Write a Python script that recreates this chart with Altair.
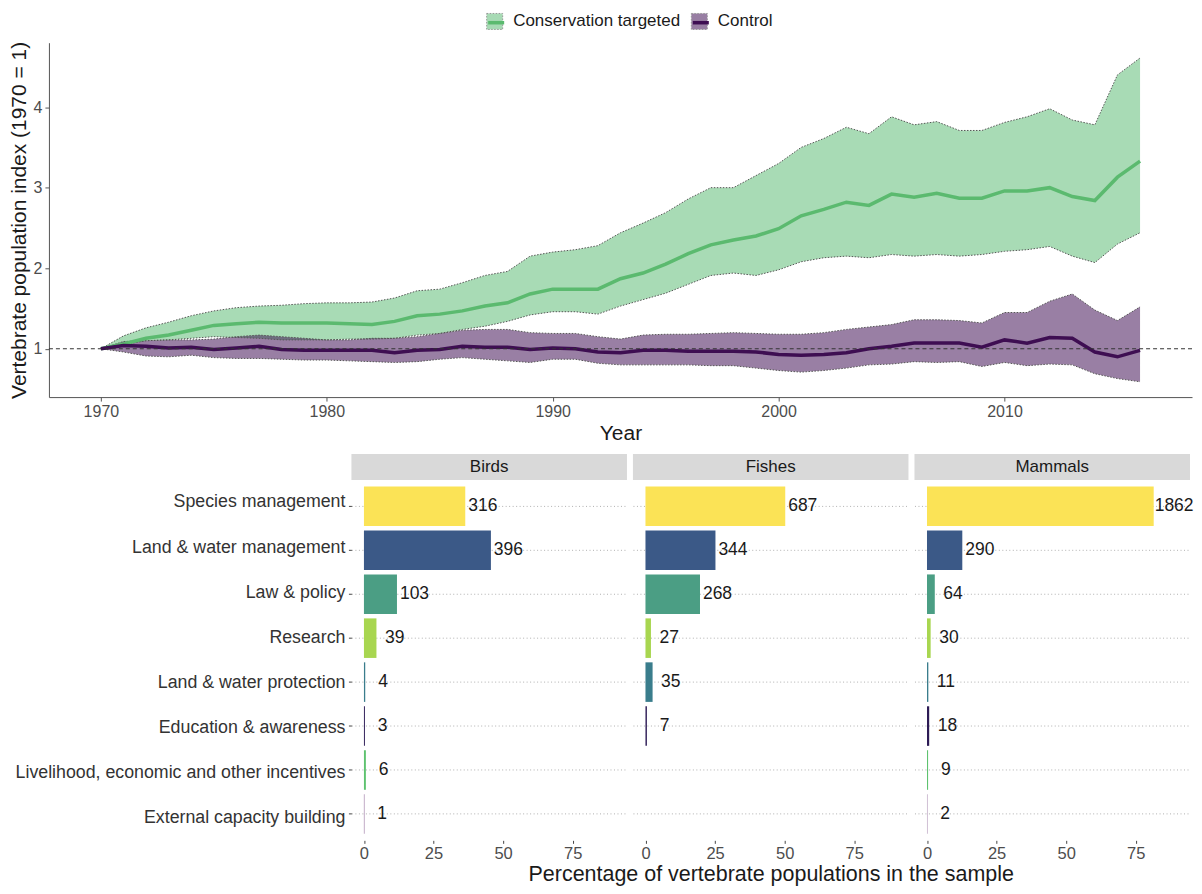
import altair as alt
import pandas as pd

FONT = "Liberation Sans"

# ---------------- top chart data (index, 1970 = 1) ----------------
years = list(range(1970, 2017))

cons_mean = [1.00, 1.06, 1.13, 1.17, 1.23, 1.29, 1.31, 1.33, 1.32, 1.32,
             1.32, 1.31, 1.30, 1.34, 1.41, 1.43, 1.47, 1.53, 1.57, 1.68,
             1.74, 1.74, 1.74, 1.87, 1.94, 2.05, 2.18, 2.29, 2.35, 2.40,
             2.49, 2.65, 2.73, 2.82, 2.78, 2.92, 2.88, 2.93, 2.87, 2.87,
             2.96, 2.96, 3.00, 2.89, 2.84, 3.13, 3.33]
cons_hi = [1.00, 1.16, 1.26, 1.33, 1.41, 1.47, 1.51, 1.53, 1.54, 1.56,
           1.57, 1.57, 1.58, 1.63, 1.72, 1.74, 1.82, 1.91, 1.96, 2.15,
           2.20, 2.23, 2.28, 2.44, 2.56, 2.69, 2.86, 3.00, 3.00, 3.15,
           3.30, 3.50, 3.61, 3.75, 3.67, 3.88, 3.78, 3.82, 3.71, 3.71,
           3.81, 3.88, 3.98, 3.84, 3.78, 4.40, 4.61]
cons_lo = [1.00, 1.05, 1.10, 1.11, 1.13, 1.15, 1.14, 1.13, 1.11, 1.11,
           1.11, 1.12, 1.12, 1.13, 1.17, 1.19, 1.24, 1.28, 1.34, 1.42,
           1.46, 1.46, 1.43, 1.53, 1.61, 1.69, 1.80, 1.91, 1.94, 1.91,
           1.98, 2.08, 2.13, 2.15, 2.13, 2.17, 2.15, 2.17, 2.15, 2.17,
           2.21, 2.23, 2.27, 2.15, 2.07, 2.30, 2.44]
ctrl_mean = [1.00, 1.04, 1.03, 1.01, 1.02, 0.99, 1.01, 1.03, 0.99, 0.98,
             0.98, 0.98, 0.98, 0.95, 0.98, 0.99, 1.03, 1.02, 1.02, 0.99,
             1.01, 1.00, 0.96, 0.95, 0.98, 0.98, 0.97, 0.97, 0.97, 0.96,
             0.93, 0.92, 0.93, 0.95, 1.00, 1.03, 1.07, 1.07, 1.07, 1.02,
             1.11, 1.07, 1.14, 1.13, 0.96, 0.90, 0.98]
ctrl_hi = [1.00, 1.09, 1.10, 1.11, 1.11, 1.12, 1.15, 1.17, 1.15, 1.13,
           1.11, 1.11, 1.13, 1.13, 1.15, 1.19, 1.23, 1.24, 1.24, 1.20,
           1.19, 1.19, 1.15, 1.12, 1.17, 1.18, 1.18, 1.19, 1.20, 1.19,
           1.18, 1.18, 1.20, 1.24, 1.27, 1.30, 1.36, 1.36, 1.35, 1.32,
           1.45, 1.45, 1.59, 1.68, 1.48, 1.35, 1.52]
ctrl_lo = [1.00, 0.96, 0.91, 0.90, 0.92, 0.89, 0.88, 0.88, 0.87, 0.86,
           0.86, 0.85, 0.84, 0.83, 0.84, 0.87, 0.89, 0.87, 0.85, 0.83,
           0.87, 0.87, 0.82, 0.80, 0.80, 0.80, 0.80, 0.79, 0.79, 0.76,
           0.73, 0.71, 0.73, 0.76, 0.80, 0.81, 0.84, 0.83, 0.84, 0.78,
           0.83, 0.79, 0.81, 0.80, 0.69, 0.63, 0.59]

series_names = ["Conservation targeted", "Control"]
band_colors = ["#51B76C", "#33004A"]
line_colors = ["#5BBA6F", "#3E0E52"]

# ---------------- bottom chart data (counts) ----------------
categories = ["Species management", "Land & water management", "Law & policy",
              "Research", "Land & water protection", "Education & awareness",
              "Livelihood, economic and other incentives", "External capacity building"]
cat_colors = ["#FBE356", "#3B5987", "#4B9E84", "#A8D650", "#3A7D8C",
              "#2D1B55", "#5EC26F", "#440154"]
panel_names = ["Birds", "Fishes", "Mammals"]
birds_counts = [316, 396, 103, 39, 4, 3, 6, 1]
fishes_counts = [687, 344, 268, 27, 35, 7]
mammals_counts = [1862, 290, 64, 30, 11, 18, 9, 2]

# ---------------- top chart ----------------
n = len(years)
top_df = pd.DataFrame({
    "year": years + years,
    "series": [series_names[0]] * n + [series_names[1]] * n,
    "mean": cons_mean + ctrl_mean,
    "lo": cons_lo + ctrl_lo,
    "hi": cons_hi + ctrl_hi,
})

W1, H1 = 1145, 355
YTITLE = "Vertebrate population index (1970 = 1)"

x_scale = alt.Scale(domain=[1967.7, 2018.3], nice=False, zero=False)
y_scale = alt.Scale(domain=[0.4, 4.8], nice=False, zero=False)
x_axis = alt.Axis(values=[1970, 1980, 1990, 2000, 2010], format="d", title="Year",
                  labelFont=FONT, labelFontSize=16, labelColor="#4d4d4d",
                  titleFont=FONT, titleFontSize=21, titleColor="#1a1a1a",
                  titleFontWeight="normal", titlePadding=3, tickSize=4,
                  tickColor="#555555", domainColor="#555555", labelPadding=2, grid=False)
y_axis = alt.Axis(values=[1, 2, 3, 4], title=YTITLE,
                  labelFont=FONT, labelFontSize=16, labelColor="#4d4d4d",
                  titleFont=FONT, titleFontSize=21, titleColor="#1a1a1a",
                  titleFontWeight="normal", titlePadding=4, tickSize=4,
                  tickColor="#555555", domainColor="#555555", labelPadding=3, grid=False)


def X(f):
    return alt.X(f"{f}:Q", scale=x_scale, axis=x_axis, title="Year")


def Y(f):
    return alt.Y(f"{f}:Q", scale=y_scale, axis=y_axis, title=YTITLE)


LEG_X, LEG_Y, LEG_STEP = 438, -30, 205
leg_common = dict(title=None, orient="none", legendY=LEG_Y,
                  direction="horizontal", labelFont=FONT, labelFontSize=17,
                  labelColor="#1a1a1a", symbolSize=256, labelOffset=10,
                  columnPadding=8, labelLimit=400)

band = alt.Chart(top_df).mark_area(opacity=0.5).encode(
    x=X("year"), y=Y("lo"), y2="hi:Q",
    fill=alt.Fill("series:N", scale=alt.Scale(domain=series_names, range=band_colors),
                  legend=alt.Legend(symbolType="square", symbolStrokeColor="#333333",
                                    symbolStrokeWidth=1, symbolDash=[1.5, 1.5],
                                    legendX=LEG_X, **leg_common)))
lo_line = alt.Chart(top_df).mark_line(strokeDash=[1.5, 1.5], strokeWidth=1, color="#555555").encode(
    x=X("year"), y=Y("lo"), detail="series:N")
hi_line = alt.Chart(top_df).mark_line(strokeDash=[1.5, 1.5], strokeWidth=1, color="#555555").encode(
    x=X("year"), y=Y("hi"), detail="series:N")

# the two mean lines each get a one-entry, label-less legend placed over the band legend's swatches
line_cons = alt.Chart(top_df).transform_filter(
    alt.datum.series == series_names[0]).mark_line(strokeWidth=3.5).encode(
    x=X("year"), y=Y("mean"),
    color=alt.Color("series:N", scale=alt.Scale(domain=[series_names[0]], range=[line_colors[0]]),
                    legend=alt.Legend(symbolType="stroke", symbolStrokeWidth=3.5,
                                      labelExpr="''", legendX=LEG_X, **leg_common)))
line_ctrl = alt.Chart(top_df).transform_filter(
    alt.datum.series == series_names[1]).mark_line(strokeWidth=3.5).encode(
    x=X("year"), y=Y("mean"),
    stroke=alt.Stroke("series:N", scale=alt.Scale(domain=[series_names[1]], range=[line_colors[1]]),
                      legend=alt.Legend(symbolType="stroke", symbolStrokeWidth=3.5,
                                        labelExpr="''", legendX=LEG_X + LEG_STEP, **leg_common)))
rule = alt.Chart(pd.DataFrame({"ref": [1]})).mark_rule(
    strokeDash=[4, 3], color="#333333", strokeWidth=1).encode(y=Y("ref"))

top = alt.layer(band, lo_line, hi_line, line_cons, line_ctrl, rule).properties(width=W1, height=H1)

# ---------------- bottom panels ----------------
WL, W2, H2 = 297, 276, 361
XTITLE = "Percentage of vertebrate populations in the sample"
xb_scale = alt.Scale(domain=[-4.5, 94.5], nice=False, zero=False)
yb_scale = alt.Scale(domain=categories, paddingInner=0.1, paddingOuter=0.15)
color_scale = alt.Scale(domain=categories, range=cat_colors)

# category labels as their own (axis-less) panel so the plot areas line up like the reference
label_df = pd.DataFrame({"category": categories})
labels_panel = alt.Chart(label_df).mark_text(
    align="right", baseline="middle", fontSize=17.8, font=FONT, color="#333333").encode(
    x=alt.value(WL),
    y=alt.Y("category:N", scale=yb_scale, sort=categories, axis=None),
    text="category:N",
).properties(width=WL, height=H2)


def panel(name, counts, idx):
    df = pd.DataFrame({"category": categories[:len(counts)], "count": counts})
    xaxis_kw = dict(values=[0, 25, 50, 75], labelFont=FONT, labelFontSize=16.5,
                    labelColor="#4d4d4d", tickColor="#444444", tickSize=3, labelPadding=2,
                    domain=False, grid=False, titleFont=FONT, titleFontSize=21.5,
                    titleColor="#1a1a1a", titleFontWeight="normal", titlePadding=2)
    if idx == 1:
        xaxis = alt.Axis(title=XTITLE, **xaxis_kw)
    else:
        xaxis = alt.Axis(title=None, **xaxis_kw)
    grid_kw = dict(domain=False, grid=True, gridColor="#b0b0b0", gridDash=[1, 2.5],
                   gridWidth=1, labels=False, title=None)
    if idx == 0:
        yaxis = alt.Axis(ticks=True, tickSize=3, tickColor="#444444", **grid_kw)
    else:
        yaxis = alt.Axis(ticks=False, **grid_kw)
    xtitle = XTITLE if idx == 1 else ""
    base = alt.Chart(df).transform_joinaggregate(total="sum(count)").transform_calculate(
        pct="100 * datum.count / datum.total",
        lx="100 * datum.count / datum.total + (datum.count >= 1000 ? 0 : datum.count >= 100 ? 0.7 : datum.count >= 10 ? 2.7 : 4.3)")
    bars = base.mark_bar().encode(
        x=alt.X("pct:Q", scale=xb_scale, axis=xaxis, title=xtitle),
        y=alt.Y("category:N", scale=yb_scale, axis=yaxis, sort=categories, title=""),
        color=alt.Color("category:N", scale=color_scale, legend=None))
    labels = base.mark_text(align="left", baseline="middle", dx=1, fontSize=17.5,
                            font=FONT, color="#1a1a1a").encode(
        x=alt.X("lx:Q", scale=xb_scale, axis=xaxis, title=xtitle),
        y=alt.Y("category:N", scale=yb_scale, axis=yaxis, sort=categories, title=""),
        text="count:Q")
    strip_df = pd.DataFrame({"panel": [name]})
    strip = alt.Chart(strip_df).mark_rect(color="#d9d9d9").encode(
        x=alt.value(0), x2=alt.value(W2), y=alt.value(-26), y2=alt.value(0))
    strip_text = alt.Chart(strip_df).mark_text(fontSize=17, font=FONT, color="#1a1a1a").encode(
        x=alt.value(W2 / 2), y=alt.value(-13), text="panel:N")
    return alt.layer(strip, strip_text, bars, labels).properties(width=W2, height=H2)


bottom = alt.hconcat(
    labels_panel,
    panel(panel_names[0], birds_counts, 0),
    panel(panel_names[1], fishes_counts, 1),
    panel(panel_names[2], mammals_counts, 2),
    spacing=6,
    bounds="flush",
)

chart = alt.vconcat(top, bottom, spacing=11).resolve_scale(
    color="independent", fill="independent", stroke="independent"
).resolve_legend(
    color="independent", fill="independent", stroke="independent"
).configure(
    padding={"left": 0, "top": 4, "right": 0, "bottom": 0},
    font=FONT,
).configure_view(stroke=None)

chart.save("out.html", embed_options={"renderer": "svg", "actions": False})
